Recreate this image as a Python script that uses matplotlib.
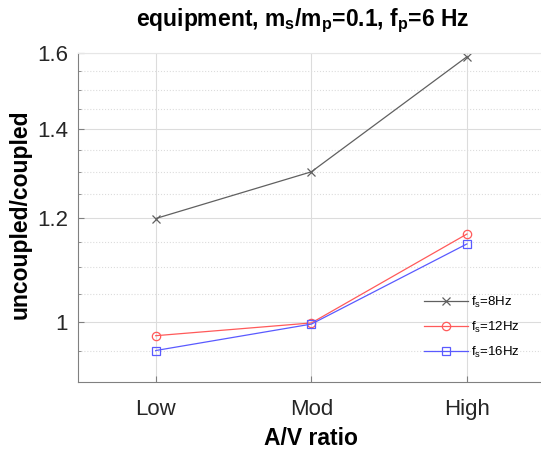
import matplotlib
matplotlib.use('Agg')
import matplotlib.pyplot as plt
from matplotlib.ticker import FixedLocator, NullFormatter
import numpy as np

# Datos
categories = ['Low', 'Mod', 'High']
ratio_8hz = [1.198, 1.300, 1.590]
ratio_12hz = [0.976, 0.998, 1.166]
ratio_16hz = [0.951, 0.996, 1.146]
labels = [r'f$_\mathrm{s}$=8Hz', r'f$_\mathrm{s}$=12Hz', r'f$_\mathrm{s}$=16Hz']
y_ticks = [1, 1.2, 1.4, 1.6]
y_tick_labels = ['1', '1.2', '1.4', '1.6']

plt.rcParams['font.family'] = ['Liberation Sans', 'DejaVu Sans']
plt.rcParams['mathtext.fontset'] = 'custom'
plt.rcParams['mathtext.rm'] = 'Liberation Sans'
plt.rcParams['mathtext.bf'] = 'Liberation Sans:bold'

fig = plt.figure(figsize=(5.41, 4.5), dpi=100)
ax = fig.add_axes([0.144, 0.151, 0.863, 0.731])

x = np.arange(1, len(categories) + 1)
series = [
    (ratio_8hz, '#606060', 'x', labels[0]),
    (ratio_12hz, '#ff5a5a', 'o', labels[1]),
    (ratio_16hz, '#5a5aff', 's', labels[2]),
]
for data, color, marker, label in series:
    ax.plot(x, data, color=color, marker=marker, markersize=6, lw=0.9,
            markerfacecolor='none', markeredgewidth=0.9, label=label)

ax.set_yscale('log')
ax.set_ylim(0.9, 1.6)
ax.set_xlim(0.5, 3.5)
ax.yaxis.set_major_locator(FixedLocator(y_ticks))
ax.set_yticklabels(y_tick_labels)
ax.yaxis.set_minor_locator(FixedLocator(np.arange(0.95, 1.6, 0.05)))
ax.yaxis.set_minor_formatter(NullFormatter())
ax.set_xticks(x)
ax.set_xticklabels(categories)

ax.grid(True, which='major', color='#dcdcdc', lw=0.8)
ax.grid(True, which='minor', axis='y', color='#dcdcdc', lw=0.8, linestyle=':')
ax.set_axisbelow(True)

for side in ['left', 'bottom']:
    ax.spines[side].set_color('#808080')
for side in ['top', 'right']:
    ax.spines[side].set_color('#e6e6e6')
ax.tick_params(which='both', direction='in', colors='#808080', labelcolor='#262626',
               labelsize=16, top=False, right=False)
ax.tick_params(which='major', length=4)
ax.tick_params(which='minor', length=2)
ax.tick_params(axis='x', pad=12)
ax.tick_params(axis='y', pad=7)

ax.set_xlabel('A/V ratio', fontsize=16.5, fontweight='bold', labelpad=5)
ax.set_ylabel('uncoupled/coupled', fontsize=16.5, fontweight='bold', labelpad=0)
ax.yaxis.set_label_coords(-0.1, 0.51)
fig.text(0.56, 0.953, r'equipment, m$_\mathbf{s}$/m$_\mathbf{p}$=0.1, f$_\mathbf{p}$=6 Hz',
         ha='center', va='center', fontsize=16.5, fontweight='bold')

ax.legend(loc='center left', bbox_to_anchor=(0.762, 0.273), bbox_transform=fig.transFigure,
          frameon=False, fontsize=9.5, handlelength=3.3, handletextpad=0.25,
          labelspacing=0.75)

fig.savefig('out.png', dpi=100)
